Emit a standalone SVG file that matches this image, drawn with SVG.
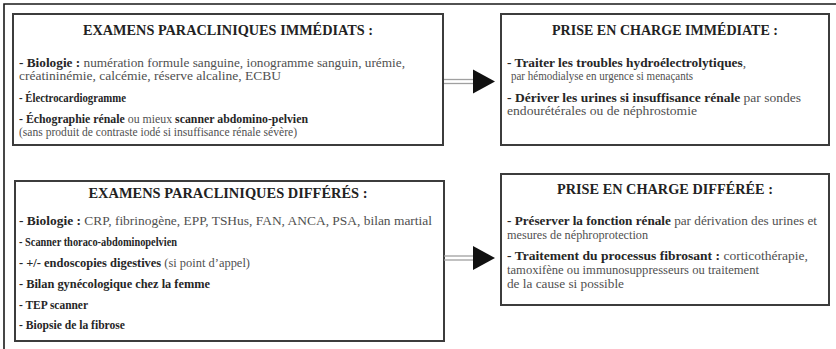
<svg xmlns="http://www.w3.org/2000/svg" width="836" height="349" viewBox="0 0 836 349">
  <defs>
    <style>
      .frame { fill: none; stroke: #1a1a1a; stroke-width: 1.6; }
      .box { fill: #ffffff; stroke: #3c3c3c; stroke-width: 2; }
      .title { font-weight: bold; font-size: 14px; fill: #222222; text-anchor: middle; }
      .body { font-size: 12px; fill: #505050; }
      .b { font-weight: bold; fill: #262626; }
      .shaft { fill: none; stroke: #a0a0a0; stroke-width: 1.3; }
      .head { fill: #111111; }
    </style>
    <!-- double-line arrow, origin at the tail, pointing right -->
    <g id="arrow">
      <line class="shaft" x1="0" y1="-2" x2="30" y2="-2"/>
      <line class="shaft" x1="0" y1="2" x2="30" y2="2"/>
      <polygon class="head" points="29,-12 51,0 29,12"/>
    </g>
  </defs>

  <rect width="836" height="349" fill="#ffffff"/>
  <!-- outer frame: top and left edges -->
  <path class="frame" d="M4,349 V4 H836"/>

  <g font-family="Liberation Serif, DejaVu Serif, serif">
  <g id="examens-immediats">
    <rect class="box" x="13" y="14" width="430" height="131"/>
    <text class="title" x="228" y="35" textLength="290" lengthAdjust="spacingAndGlyphs">EXAMENS PARACLINIQUES IMMÉDIATS :</text>
    <text class="body" x="19" y="67" textLength="386" lengthAdjust="spacingAndGlyphs"><tspan class="b">- Biologie :</tspan> numération formule sanguine, ionogramme sanguin, urémie,</text>
    <text class="body" x="19" y="80" textLength="262" lengthAdjust="spacingAndGlyphs">créatininémie, calcémie, réserve alcaline, ECBU</text>
    <text class="body" x="19" y="102" textLength="107" lengthAdjust="spacingAndGlyphs"><tspan class="b">- Électrocardiogramme</tspan></text>
    <text class="body" x="19" y="123" textLength="289" lengthAdjust="spacingAndGlyphs"><tspan class="b">- Échographie rénale</tspan> ou mieux <tspan class="b">scanner abdomino-pelvien</tspan></text>
    <text class="body" x="19" y="136" textLength="278" lengthAdjust="spacingAndGlyphs">(sans produit de contraste iodé si insuffisance rénale sévère)</text>
  </g>

  <g id="prise-en-charge-immediate">
    <rect class="box" x="501" y="14" width="328" height="131"/>
    <text class="title" x="665" y="35" textLength="226" lengthAdjust="spacingAndGlyphs">PRISE EN CHARGE IMMÉDIATE :</text>
    <text class="body" x="507" y="67" textLength="239" lengthAdjust="spacingAndGlyphs"><tspan class="b">- Traiter les troubles hydroélectrolytiques</tspan>,</text>
    <text class="body" x="511" y="80" textLength="182" lengthAdjust="spacingAndGlyphs">par hémodialyse en urgence si menaçants</text>
    <text class="body" x="507" y="102" textLength="294" lengthAdjust="spacingAndGlyphs"><tspan class="b">- Dériver les urines si insuffisance rénale</tspan> par sondes</text>
    <text class="body" x="507" y="115" textLength="190" lengthAdjust="spacingAndGlyphs">endourétérales ou de néphrostomie</text>
  </g>

  <g id="examens-differes">
    <rect class="box" x="15" y="181" width="429" height="160"/>
    <text class="title" x="228" y="198" textLength="279" lengthAdjust="spacingAndGlyphs">EXAMENS PARACLINIQUES DIFFÉRÉS :</text>
    <text class="body" x="19" y="225" textLength="413" lengthAdjust="spacingAndGlyphs"><tspan class="b">- Biologie :</tspan> CRP, fibrinogène, EPP, TSHus, FAN, ANCA, PSA, bilan martial</text>
    <text class="body" x="19" y="246" textLength="158" lengthAdjust="spacingAndGlyphs"><tspan class="b">- Scanner thoraco-abdominopelvien</tspan></text>
    <text class="body" x="19" y="267" textLength="231" lengthAdjust="spacingAndGlyphs"><tspan class="b">- +/- endoscopies digestives</tspan> (si point d’appel)</text>
    <text class="body" x="19" y="288" textLength="191" lengthAdjust="spacingAndGlyphs"><tspan class="b">- Bilan gynécologique chez la femme</tspan></text>
    <text class="body" x="19" y="309" textLength="69" lengthAdjust="spacingAndGlyphs"><tspan class="b">- TEP scanner</tspan></text>
    <text class="body" x="19" y="329" textLength="106" lengthAdjust="spacingAndGlyphs"><tspan class="b">- Biopsie de la fibrose</tspan></text>
  </g>

  <g id="prise-en-charge-differee">
    <rect class="box" x="501" y="174" width="328" height="131"/>
    <text class="title" x="665" y="194" textLength="216" lengthAdjust="spacingAndGlyphs">PRISE EN CHARGE DIFFÉRÉE :</text>
    <text class="body" x="507" y="225" textLength="310" lengthAdjust="spacingAndGlyphs"><tspan class="b">- Préserver la fonction rénale</tspan> par dérivation des urines et</text>
    <text class="body" x="507" y="239" textLength="141" lengthAdjust="spacingAndGlyphs">mesures de néphroprotection</text>
    <text class="body" x="507" y="260" textLength="301" lengthAdjust="spacingAndGlyphs"><tspan class="b">-  Traitement du processus fibrosant :</tspan> corticothérapie,</text>
    <text class="body" x="507" y="274" textLength="252" lengthAdjust="spacingAndGlyphs">tamoxifène ou immunosuppresseurs ou traitement</text>
    <text class="body" x="507" y="288" textLength="117" lengthAdjust="spacingAndGlyphs">de la cause si possible</text>
  </g>
  </g>

  <g id="connectors">
    <use href="#arrow" x="444" y="81.5"/>
    <use href="#arrow" x="444" y="258"/>
  </g>
</svg>
